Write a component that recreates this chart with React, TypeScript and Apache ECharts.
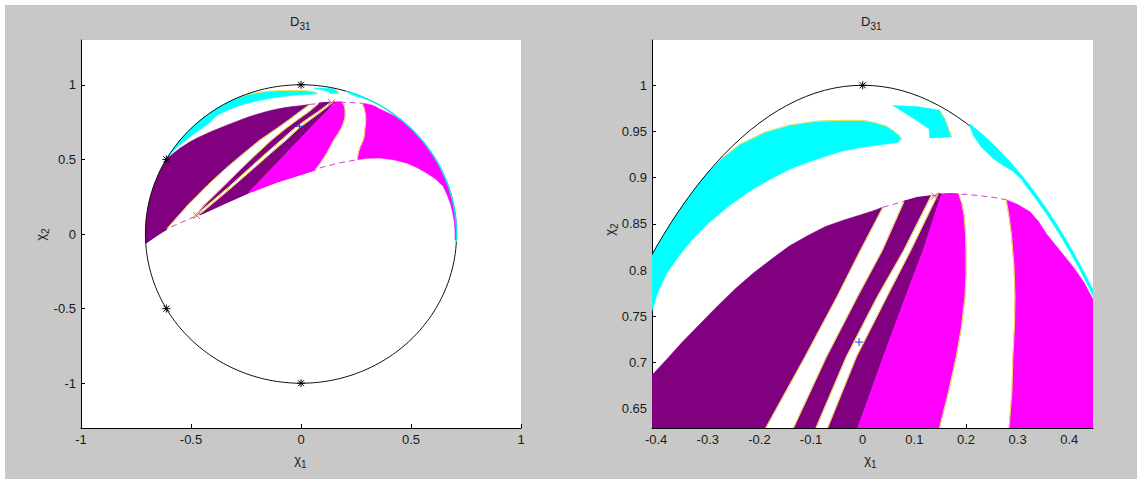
import React, { useEffect, useRef } from "react";
import * as echarts from "echarts";

type Pt = [number, number];

// Boundary of the admissible domain: ellipse chi1^2/0.5 + chi2^2 = 1
const ELLIPSE_SEMI_X = 0.7071;
const ELLIPSE_SEMI_Y = 1.0;

// Axis ranges and ticks
const LEFT_X_RANGE = [-1, 1];
const LEFT_Y_RANGE = [-1.3, 1.3];
const RIGHT_X_RANGE = [-0.408, 0.446];
const RIGHT_Y_RANGE = [0.629, 1.049];
const LEFT_X_TICKS = [-1, -0.5, 0, 0.5, 1];
const LEFT_Y_TICKS = [-1, -0.5, 0, 0.5, 1];
const RIGHT_X_TICKS = [-0.4, -0.3, -0.2, -0.1, 0, 0.1, 0.2, 0.3, 0.4];
const RIGHT_Y_TICKS = [0.65, 0.7, 0.75, 0.8, 0.85, 0.9, 0.95, 1];

// Region boundaries (chi1, chi2)
const P1_UPPER: Pt[] = [[-0.612, 0.5], [-0.585, 0.535], [-0.55, 0.575], [-0.51, 0.613], [-0.474, 0.642], [-0.44, 0.665], [-0.41, 0.685], [-0.38, 0.703], [-0.351, 0.721], [-0.316, 0.741], [-0.281, 0.761], [-0.246, 0.78], [-0.211, 0.797], [-0.176, 0.812], [-0.142, 0.826], [-0.107, 0.837], [-0.072, 0.847], [-0.037, 0.854], [-0.002, 0.86], [0.02, 0.864], [0.039, 0.868]];
const EDGE_A: Pt[] = [[-0.61, 0.035], [-0.511, 0.2], [-0.423, 0.33], [-0.342, 0.44], [-0.262, 0.54], [-0.187, 0.63], [-0.112, 0.706], [-0.05, 0.771], [-0.005, 0.821], [0.039, 0.868]];
const EDGE_B: Pt[] = [[-0.49, 0.112], [-0.435, 0.2], [-0.352, 0.32], [-0.27, 0.44], [-0.199, 0.54], [-0.133, 0.63], [-0.07, 0.706], [-0.01, 0.771], [0.038, 0.821], [0.08, 0.874]];
const M1_TOP: Pt[] = [[0.105, 0.878]];
const EDGE_C: Pt[] = [[-0.49, 0.112], [-0.42, 0.2], [-0.325, 0.32], [-0.235, 0.44], [-0.16, 0.54], [-0.09, 0.63], [-0.032, 0.706], [0.028, 0.771], [0.079, 0.821], [0.132, 0.88]];
const EDGE_D: Pt[] = [[-0.462, 0.13], [-0.405, 0.2], [-0.308, 0.32], [-0.215, 0.44], [-0.138, 0.54], [-0.067, 0.63], [-0.012, 0.706], [0.047, 0.771], [0.093, 0.821], [0.146, 0.882]];
const EDGE_E: Pt[] = [[-0.238, 0.278], [-0.009, 0.63], [0.04, 0.706], [0.083, 0.771], [0.117, 0.821], [0.1525, 0.882]];
const MG1_TOP: Pt[] = [[0.17, 0.8825]];
const MG1_RIGHT: Pt[] = [[0.186, 0.882], [0.192, 0.872], [0.196, 0.86], [0.199, 0.84], [0.2, 0.82], [0.2, 0.795], [0.198, 0.771], [0.191, 0.738], [0.181, 0.706], [0.166, 0.668], [0.149, 0.63], [0.134, 0.59], [0.12, 0.55], [0.104, 0.513], [0.09, 0.48], [0.077, 0.455], [0.064, 0.431]];
const FAN_LOWER: Pt[] = [[-0.706, -0.058], [-0.66, -0.012], [-0.61, 0.035], [-0.54, 0.08], [-0.474, 0.123], [-0.35, 0.205], [-0.238, 0.278], [-0.1, 0.355], [0.064, 0.431]];
const MG2_TOP: Pt[] = [[0.278, 0.876], [0.3, 0.871], [0.324, 0.863], [0.341, 0.852], [0.356, 0.839], [0.382, 0.821], [0.408, 0.803], [0.428, 0.787], [0.446, 0.768]];
const MG2_BOTTOM: Pt[] = [[0.7, -0.04], [0.7, 0.02], [0.697, 0.08], [0.69, 0.14], [0.68, 0.2], [0.665, 0.26], [0.647, 0.319], [0.612, 0.368], [0.571, 0.409], [0.527, 0.445], [0.48, 0.476], [0.42, 0.498], [0.359, 0.51], [0.3, 0.507], [0.256, 0.498]];
const MG2_LEFT: Pt[] = [[0.256, 0.498], [0.258, 0.52], [0.262, 0.55], [0.27, 0.585], [0.2836, 0.63], [0.289, 0.668], [0.291, 0.706], [0.294, 0.74], [0.295, 0.771], [0.293, 0.805], [0.288, 0.839], [0.283, 0.86], [0.278, 0.876]];
const CYAN1_ARC_END: Pt = [-0.301, 0.905];
const CYAN1_TOP: Pt[] = [[-0.27, 0.922], [-0.238, 0.936], [-0.19, 0.949], [-0.141, 0.957], [-0.09, 0.961], [-0.045, 0.962], [0.0, 0.962], [0.02, 0.96], [0.045, 0.956], [0.059, 0.951], [0.07, 0.946], [0.075, 0.942]];
const CYAN1_LOWER: Pt[] = [[0.068, 0.938], [-0.002, 0.933], [-0.045, 0.928], [-0.1, 0.918], [-0.142, 0.909], [-0.18, 0.898], [-0.22, 0.885], [-0.26, 0.869], [-0.3, 0.85], [-0.33, 0.833], [-0.355, 0.816], [-0.38, 0.796], [-0.398, 0.774], [-0.41, 0.752], [-0.44, 0.72], [-0.48, 0.678], [-0.52, 0.633], [-0.56, 0.585], [-0.59, 0.54], [-0.612, 0.5]];
const CYAN2: Pt[] = [[0.0587, 0.978], [0.104, 0.977], [0.149, 0.973], [0.159, 0.964], [0.172, 0.944], [0.13, 0.943], [0.1286, 0.953], [0.104, 0.962]];
const CYAN2_EDGE: Pt[] = [[0.149, 0.973], [0.159, 0.964], [0.172, 0.944]];
const CYAN3_INNER: Pt[] = [[0.207, 0.956], [0.215, 0.945], [0.23, 0.933], [0.252, 0.921], [0.27, 0.914], [0.291, 0.907], [0.31, 0.897]];
const DASH_TOP: Pt[] = [[0.039, 0.868], [0.078, 0.874], [0.14, 0.881], [0.2, 0.882], [0.25, 0.879], [0.278, 0.876]];
const DASH_LOWER_TAIL: Pt[] = [[0.1, 0.449], [0.18, 0.478], [0.256, 0.498]];

// Markers
const STAR_POINTS: Pt[] = [[0, 1], [0, -1], [-0.612, 0.5], [-0.612, -0.5]];
const PLUS_POINTS: Pt[] = [[-0.007, 0.722]];
const CROSS_POINTS: Pt[] = [[0.1395, 0.88], [-0.474, 0.123]];

const PURPLE = "#800080";
const MAGENTA = "#ff00ff";
const CYAN = "#00ffff";
const YELLOW = "#f3e24a";
const DASH = "#cc44cc";
const FONT = "'Liberation Sans', Arial, Helvetica, sans-serif";

const DEG = Math.PI / 180;
const ang = (p: Pt) => Math.atan2(p[1] / ELLIPSE_SEMI_Y, p[0] / ELLIPSE_SEMI_X) / DEG;
const arc = (t0: number, t1: number, s = 1): Pt[] => {
  const n = Math.max(2, Math.ceil(Math.abs(t1 - t0) / 1.5));
  const out: Pt[] = [];
  for (let i = 0; i <= n; i++) {
    const t = (t0 + ((t1 - t0) * i) / n) * DEG;
    out.push([s * ELLIPSE_SEMI_X * Math.cos(t), s * ELLIPSE_SEMI_Y * Math.sin(t)]);
  }
  return out;
};
const rev = (a: Pt[]) => a.slice().reverse();
const last = (a: Pt[]) => a[a.length - 1];

const P1: Pt[] = [
  ...P1_UPPER,
  ...rev(EDGE_A).slice(1),
  FAN_LOWER[1],
  FAN_LOWER[0],
  ...arc(ang(FAN_LOWER[0]) + 360, ang(P1_UPPER[0])),
];
const M1: Pt[] = [...EDGE_B, ...M1_TOP, ...rev(EDGE_C)];
const M2: Pt[] = [...EDGE_D, ...rev(EDGE_E), FAN_LOWER[5]];
const MG1: Pt[] = [...EDGE_E, ...MG1_TOP, ...MG1_RIGHT, FAN_LOWER[7]];
const MG2: Pt[] = [
  ...MG2_TOP,
  ...arc(ang(last(MG2_TOP)), ang(MG2_BOTTOM[0]), 0.997),
  ...MG2_BOTTOM,
  ...MG2_LEFT.slice(1),
];
const CYAN1: Pt[] = [...arc(ang(P1_UPPER[0]), ang(CYAN1_ARC_END)), ...CYAN1_TOP, ...CYAN1_LOWER];
const CYAN3: Pt[] = [
  ...CYAN3_INNER,
  ...arc(ang(last(CYAN3_INNER)), -3, 0.997),
  ...arc(-3, ang(CYAN3_INNER[0]), 1.002),
];
const DASH_LOWER: Pt[] = [...FAN_LOWER, ...DASH_LOWER_TAIL];
const ELLIPSE: Pt[] = arc(0, 360);

// segments of the dashed curve hidden below the filled regions
const COVERS: [Pt[], string][] = [
  [FAN_LOWER.slice(0, 3), PURPLE],
  [[EDGE_D[0], FAN_LOWER[5], FAN_LOWER[6]], PURPLE],
  [FAN_LOWER.slice(6, 9), MAGENTA],
  [[last(EDGE_B), ...M1_TOP, last(EDGE_C)], PURPLE],
  [[last(EDGE_D), last(EDGE_E)], PURPLE],
  [[last(EDGE_E), ...MG1_TOP, MG1_RIGHT[0]], MAGENTA],
];

function renderScene(api: any) {
  const c = (pts: Pt[]) => pts.map((p) => api.coord(p));
  const children: any[] = [];
  const poly = (pts: Pt[], fill: string) =>
    children.push({ type: "polygon", shape: { points: c(pts) }, style: { fill, stroke: fill, lineWidth: 0.6 } });
  const line = (pts: Pt[], stroke: string, lineWidth = 1, lineDash?: number[]) =>
    children.push({ type: "polyline", shape: { points: c(pts) }, style: { fill: "none", stroke, lineWidth, lineDash } });
  const seg = (x1: number, y1: number, x2: number, y2: number, stroke: string) =>
    children.push({ type: "line", shape: { x1, y1, x2, y2 }, style: { stroke, lineWidth: 1 } });

  line(DASH_LOWER, DASH, 1, [6, 4]);
  line(DASH_TOP, DASH, 1, [6, 4]);
  poly(CYAN1, CYAN);
  poly(CYAN2, CYAN);
  poly(P1, PURPLE);
  poly(M1, PURPLE);
  poly(M2, PURPLE);
  poly(MG1, MAGENTA);
  poly(MG2, MAGENTA);
  COVERS.forEach(([pts, col]) => line(pts, col, 1.8));
  [EDGE_A, EDGE_B, EDGE_C, EDGE_D, MG1_RIGHT, MG2_LEFT, CYAN1_TOP, CYAN2_EDGE].forEach((e) => line(e, YELLOW, 1));
  line(ELLIPSE, "#111111", 1);
  poly(CYAN3, CYAN);

  STAR_POINTS.forEach((p) => {
    const [x, y] = api.coord(p);
    seg(x - 4, y, x + 4, y, "#000");
    seg(x, y - 4, x, y + 4, "#000");
    seg(x - 3, y - 3, x + 3, y + 3, "#000");
    seg(x - 3, y + 3, x + 3, y - 3, "#000");
  });
  PLUS_POINTS.forEach((p) => {
    const [x, y] = api.coord(p);
    seg(x - 4, y, x + 4, y, "#2a3cd0");
    seg(x, y - 4, x, y + 4, "#2a3cd0");
  });
  CROSS_POINTS.forEach((p) => {
    const [x, y] = api.coord(p);
    seg(x - 3.5, y - 3.5, x + 3.5, y + 3.5, "#e06060");
    seg(x - 3.5, y + 3.5, x + 3.5, y - 3.5, "#e06060");
  });
  return { type: "group", children };
}

const fmt = (v: number) => String(+(+v).toFixed(4));
const axisText = { fontSize: 13, color: "#1a1a1a", fontFamily: FONT };

function axisFor(gridIndex: number, range: number[], ticks: number[], position: string) {
  return {
    type: "value",
    gridIndex,
    min: range[0],
    max: range[1],
    position,
    axisLine: { show: true, onZero: false, lineStyle: { color: "#000", width: 1 } },
    axisTick: { show: true, inside: true, length: 4, customValues: ticks, lineStyle: { color: "#000", width: 1 } },
    axisLabel: { show: true, customValues: ticks, margin: 5, showMinLabel: true, showMaxLabel: true, formatter: fmt, ...axisText },
    splitLine: { show: false },
  };
}

function subText(x: number, y: number, main: string, sub: string) {
  return [
    { type: "text", x, y, style: { text: main, fontSize: 13, fontFamily: FONT, fill: "#1a1a1a", textAlign: "right", textVerticalAlign: "middle", verticalAlign: "middle" } },
    { type: "text", x, y: y + 5, style: { text: sub, fontSize: 10, fontFamily: FONT, fill: "#1a1a1a", textAlign: "left", textVerticalAlign: "middle", verticalAlign: "middle" } },
  ];
}

function buildOption() {
  return {
    animation: false,
    backgroundColor: "transparent",
    grid: [
      { left: 81, top: 40, width: 440, height: 388, show: true, backgroundColor: "#ffffff", borderWidth: 0, containLabel: false },
      { left: 652, top: 40, width: 441, height: 388, show: true, backgroundColor: "#ffffff", borderWidth: 0, containLabel: false },
    ],
    xAxis: [axisFor(0, LEFT_X_RANGE, LEFT_X_TICKS, "bottom"), axisFor(1, RIGHT_X_RANGE, RIGHT_X_TICKS, "bottom")],
    yAxis: [axisFor(0, LEFT_Y_RANGE, LEFT_Y_TICKS, "left"), axisFor(1, RIGHT_Y_RANGE, RIGHT_Y_TICKS, "left")],
    series: [
      { type: "custom", xAxisIndex: 0, yAxisIndex: 0, clip: true, silent: true, data: [[0, 0]], renderItem: (_p: any, api: any) => renderScene(api) },
      { type: "custom", xAxisIndex: 1, yAxisIndex: 1, clip: true, silent: true, data: [[0, 0.8]], renderItem: (_p: any, api: any) => renderScene(api) },
    ],
    graphic: [
      { type: "rect", shape: { x: 0, y: 0, width: 1137, height: 5 }, style: { fill: "#ffffff" }, silent: true },
      { type: "rect", shape: { x: 0, y: 0, width: 5, height: 479 }, style: { fill: "#ffffff" }, silent: true },
      ...subText(299.5, 21, "D", "31"),
      ...subText(870.5, 21, "D", "31"),
      ...subText(301, 459, "χ", "1"),
      ...subText(871, 459, "χ", "1"),
      { type: "group", x: 40, y: 235, rotation: Math.PI / 2, children: subText(1, 0, "χ", "2") },
      { type: "group", x: 609, y: 230, rotation: Math.PI / 2, children: subText(1, 0, "χ", "2") },
    ],
  };
}

export default function App() {
  const ref = useRef<HTMLDivElement>(null);
  useEffect(() => {
    if (!ref.current) return;
    const chart = echarts.init(ref.current, undefined, { renderer: "svg" });
    chart.setOption(buildOption() as any);
    return () => chart.dispose();
  }, []);
  return (
    <div
      ref={ref}
      style={{ position: "fixed", left: 0, top: 0, width: 1137, height: 479, background: "#c8c8c8" }}
    />
  );
}
